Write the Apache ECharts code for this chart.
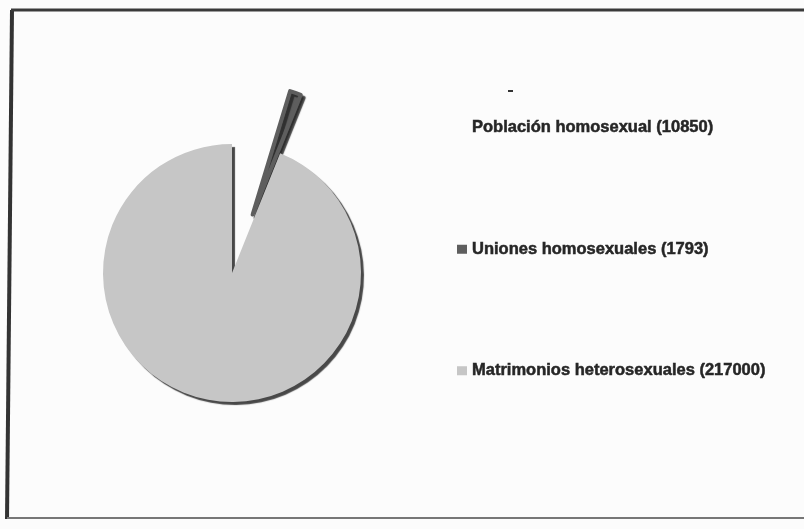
<!DOCTYPE html>
<html>
<head>
<meta charset="utf-8">
<script src="https://cdn.jsdelivr.net/npm/echarts@6/dist/echarts.min.js"></script>
<style>
html,body{margin:0;padding:0;background:#fcfcfc;}
#chart{width:804px;height:529px;}
</style>
</head>
<body>
<div id="chart"></div>
<script>
var categories = ['Población homosexual (10850)', 'Uniones homosexuales (1793)', 'Matrimonios heterosexuales (217000)'];
var values = [10850, 1793, 217000];
var colors = ['#fcfcfc', '#5e5e5e', '#c6c6c6'];

var chart = echarts.init(document.getElementById('chart'));
var data = categories.map(function (c, i) {
  var item = { name: c, value: values[i], itemStyle: { color: colors[i] } };
  if (i === 0) {
    item.itemStyle.shadowColor = 'rgba(0,0,0,0)';
  }
  if (i === 1) {
    item.selected = true;
    item.itemStyle.borderColor = '#5e5e5e';
    item.itemStyle.borderWidth = 4;
    item.itemStyle.borderJoin = 'round';
  }
  return item;
});

chart.setOption({
  backgroundColor: '#fcfcfc',
  animation: false,
  legend: {
    orient: 'vertical',
    left: 452,
    top: 114,
    itemGap: 104,
    itemWidth: 10,
    itemHeight: 9,
    icon: 'rect',
    selectedMode: false,
    itemStyle: { borderWidth: 0, shadowColor: 'rgba(0,0,0,0)' },
    textStyle: {
      fontFamily: 'Liberation Sans, Arial, sans-serif',
      fontWeight: 'bold',
      fontSize: 16.5,
      color: '#262626',
      textBorderColor: '#262626',
      textBorderWidth: 0.5
    },
    data: categories
  },
  graphic: [
    { type: 'line', shape: { x1: 12, y1: 10, x2: 7, y2: 519 }, style: { stroke: '#333', lineWidth: 4 } },
    { type: 'line', shape: { x1: 11, y1: 10, x2: 804, y2: 10 }, style: { stroke: '#3a3a3a', lineWidth: 3 } },
    { type: 'line', shape: { x1: 7, y1: 518, x2: 804, y2: 518 }, style: { stroke: '#777', lineWidth: 2 } },
    { type: 'rect', shape: { x: 508, y: 90, width: 5, height: 2 }, style: { fill: '#333' } }
  ],
  series: [{
    type: 'pie',
    center: [232, 273],
    radius: [0, 129],
    startAngle: 90,
    clockwise: true,
    minAngle: 5,
    selectedMode: 'single',
    selectedOffset: 62,
    label: { show: false },
    labelLine: { show: false },
    emphasis: { disabled: true },
    itemStyle: {
      borderWidth: 0,
      shadowColor: 'rgba(40,40,40,0.85)',
      shadowOffsetX: 3,
      shadowOffsetY: 3,
      shadowBlur: 1
    },
    data: data
  }]
});
</script>
</body>
</html>
